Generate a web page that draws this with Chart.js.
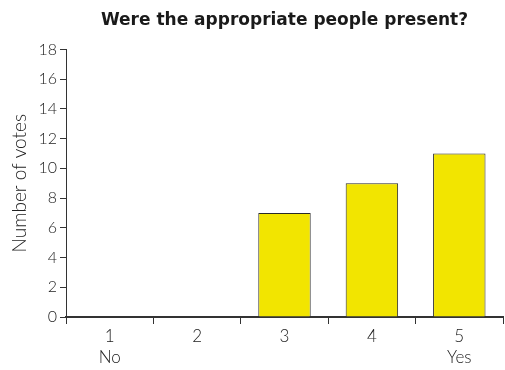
<!DOCTYPE html>
<html>
<head>
<meta charset="utf-8">
<script src="https://cdn.jsdelivr.net/npm/chart.js@4"></script>
<style>
  html, body { margin: 0; padding: 0; background: #fff; }
  #wrap { width: 505px; height: 370px; }
</style>
</head>
<body>
<div id="wrap"><canvas id="chart"></canvas></div>
<script>
const categories = [['1', 'No'], ['2', ''], ['3', ''], ['4', ''], ['5', 'Yes']];
const votes = [0, 0, 7, 9, 11];
const yTicks = { min: 0, max: 18, step: 2 };

const axisColor = '#333333';
const textFont = 'Lato, "DejaVu Sans", sans-serif';
const titleFont = '"DejaVu Sans", sans-serif';

new Chart(document.getElementById('chart'), {
  type: 'bar',
  data: {
    labels: categories,
    datasets: [{
      label: 'Number of votes',
      data: votes,
      backgroundColor: '#F2E500',
      borderColor: '#2a2a2a',
      borderWidth: 1,
      categoryPercentage: 1,
      barPercentage: 0.6
    }]
  },
  options: {
    responsive: true,
    maintainAspectRatio: false,
    animation: false,
    layout: { padding: { left: 5, right: 2, top: 0, bottom: 0 } },
    plugins: {
      legend: { display: false },
      tooltip: { enabled: false },
      title: {
        display: true,
        fullSize: false,
        text: 'Were the appropriate people present?',
        color: '#1a1a1a',
        font: { family: titleFont, size: 17, weight: 'bold' },
        padding: { top: 10, bottom: 19 }
      }
    },
    scales: {
      x: {
        offset: true,
        grid: { display: true, offset: true, drawOnChartArea: false, tickLength: 7, color: axisColor, tickColor: axisColor },
        border: { display: true, color: axisColor, width: 2 },
        ticks: { color: '#222', font: { family: textFont, size: 17, weight: 300, lineHeight: '21px' }, padding: 2, maxRotation: 0 }
      },
      y: {
        min: yTicks.min,
        max: yTicks.max,
        afterFit: (scale) => { scale.width = 61; },
        title: { display: true, text: 'Number of votes', color: '#222', font: { family: textFont, size: 19, weight: 300 }, padding: { top: 3, bottom: 0 } },
        grid: { display: true, drawOnChartArea: false, tickLength: 6, color: axisColor, tickColor: axisColor },
        border: { display: true, color: axisColor, width: 1 },
        ticks: { stepSize: yTicks.step, color: '#222', font: { family: textFont, size: 16, weight: 300 }, padding: 3 }
      }
    }
  }
});
</script>
</body>
</html>
